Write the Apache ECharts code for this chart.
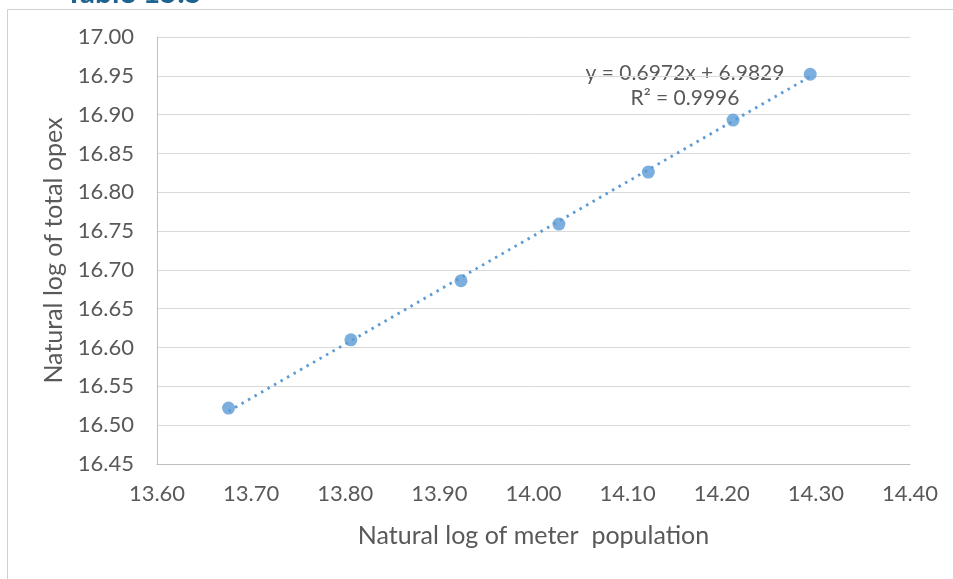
<!DOCTYPE html>
<html>
<head>
<meta charset="utf-8">
<script src="https://cdn.jsdelivr.net/npm/echarts@6/dist/echarts.min.js"></script>
<style>
html, body { margin: 0; padding: 0; background: #fff; }
#main { width: 953px; height: 579px; }
</style>
</head>
<body>
<div id="main"></div>
<script>
let chartDom = document.getElementById('main');
let myChart = echarts.init(chartDom);

// points
let meterLog = [13.676, 13.806, 13.923, 14.027, 14.122, 14.212, 14.294];
let opexLog = [16.522, 16.610, 16.686, 16.759, 16.826, 16.893, 16.952];

// trendline ends (first and last point)
let trendX = [13.676, 14.294];
let trendY = [16.518, 16.949];

let eqText = 'y = 0.6972x + 6.9829';
let r2Text = 'R² = 0.9996';

let font = 'Lato';
let grey = '#595959';
let blue = '#5b9bd5';

let points = meterLog.map((x, i) => [x, opexLog[i]]);
let trend = trendX.map((x, i) => [x, trendY[i]]);

let option = {
	animation: false,
	textStyle: { fontFamily: font },
	grid: { left: 157, right: 43, top: 37, bottom: 115 },
	xAxis: {
		type: 'value',
		min: 13.6,
		max: 14.4,
		interval: 0.1,
		name: 'Natural log of meter  population',
		nameLocation: 'middle',
		nameGap: 59,
		nameTextStyle: { color: grey, fontSize: 25, fontFamily: font },
		axisLine: { show: true, lineStyle: { color: '#bfbfbf', width: 1 } },
		axisTick: { show: false },
		splitLine: { show: false },
		axisLabel: {
			color: grey,
			fontSize: 22,
			margin: 19,
			fontFamily: font,
			formatter: (v) => v.toFixed(2)
		}
	},
	yAxis: {
		type: 'value',
		min: 16.45,
		max: 17.0,
		interval: 0.05,
		name: 'Natural log of total opex',
		nameLocation: 'middle',
		nameGap: 85,
		nameTextStyle: { color: grey, fontSize: 25, fontFamily: font },
		axisLine: { show: true, lineStyle: { color: '#bfbfbf', width: 1 } },
		axisTick: { show: false },
		splitLine: { show: true, lineStyle: { color: '#d9d9d9', width: 1 } },
		axisLabel: {
			color: grey,
			fontSize: 22,
			margin: 23,
			fontFamily: font,
			formatter: (v) => v.toFixed(2)
		}
	},
	series: [
		{
			type: 'line',
			data: trend,
			symbol: 'none',
			lineStyle: { color: blue, width: 2.8, type: [2.5, 5] },
			z: 1
		},
		{
			type: 'scatter',
			data: points,
			symbol: 'circle',
			symbolSize: 13,
			itemStyle: { color: blue },
			z: 2
		}
	],
	graphic: [
		{
			type: 'rect',
			shape: { x: 7.5, y: 9.5, width: 980, height: 620 },
			style: { fill: 'none', stroke: '#d0d0d0', lineWidth: 1 },
			silent: true
		},
		{
			type: 'text',
			x: 65,
			y: 8,
			style: { text: 'Table 15.5', fill: '#1f6391', font: 'bold 30px Lato', verticalAlign: 'bottom' },
			z: -1
		},
		{
			type: 'rect',
			shape: { x: 0, y: 8, width: 953, height: 20 },
			style: { fill: '#fff' },
			z: -1,
			silent: true
		},
		{
			type: 'text',
			x: 685,
			y: 73,
			style: { text: eqText, fill: grey, font: '21px Lato', align: 'center', verticalAlign: 'middle' }
		},
		{
			type: 'text',
			x: 685,
			y: 98,
			style: { text: r2Text, fill: grey, font: '21px Lato', align: 'center', verticalAlign: 'middle' }
		}
	]
};

myChart.setOption(option);
</script>
</body>
</html>
